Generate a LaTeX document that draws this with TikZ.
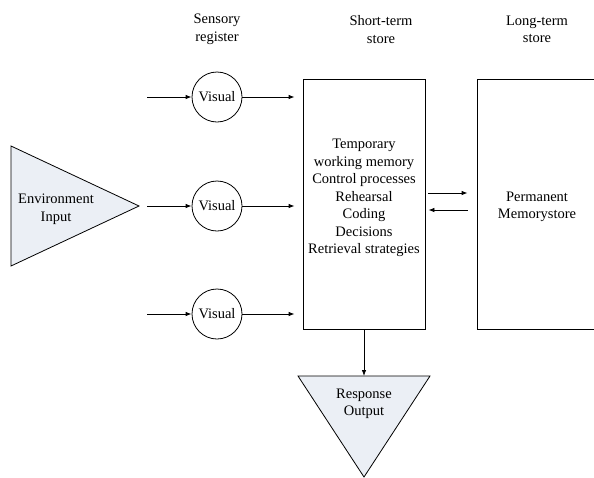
\documentclass[tikz,border=0pt]{standalone}
\usepackage{fontspec}
\setmainfont{Liberation Serif}
\usetikzlibrary{arrows.meta}
\definecolor{shade}{RGB}{235,239,245}
\begin{document}
\begin{tikzpicture}[x=1pt,y=-1pt,
  every node/.style={font=\fontsize{14.5}{17.5}\selectfont, align=center},
  line/.style={line width=0.8pt},
  arr/.style={line width=0.8pt, -{Latex[length=6pt,width=4.5pt]}},
  sense/.style={draw, circle, line width=0.8pt, minimum size=50pt, inner sep=0pt},
  store/.style={draw, rectangle, line width=0.8pt, inner sep=0pt}]
\useasboundingbox (0,0) rectangle (594,477);
\clip (0,0) rectangle (594,477);
% titles
\node (t1) at (217,29.5) {Sensory\\register};
\node (t2) at (381,29.5) {Short-term\\store};
\node (t3) at (537,29.5) {Long-term\\store};
% environment triangle
\draw[line, fill=shade] (11,146) coordinate (e1) -- (139,206) coordinate (eapex) -- (11,266) -- cycle;
\node (env) at (56,209) {Environment\\Input};
% sensory circles
\node[sense] (v1) at (217,97) {Visual};
\node[sense] (v2) at (217,206) {Visual};
\node[sense] (v3) at (217,314) {Visual};
\coordinate (s1) at (147,97);
\coordinate (s2) at (147,206);
\coordinate (s3) at (147,314);
% stores
\node[store, minimum width=122pt, minimum height=250pt] (sts) at (364,204) {};
\node (stt) at (364,198) {Temporary\\working memory\\Control processes\\Rehearsal\\Coding\\Decisions\\Retrieval strategies};
\node[store, minimum width=120pt, minimum height=250pt] (lts) at (537,204) {};
\node (ltt) at (537,207) {Permanent\\Memorystore};
% response triangle
\draw[line, fill=shade] (298,376) coordinate (rtop) -- (430,376) -- (364,477) coordinate (rapex) -- cycle;
\coordinate (rin) at (364,376);
\node (resp) at (364,404) {Response\\Output};
% connectors
\foreach \i in {1,2,3}{
  \draw[arr] (s\i) -- (v\i.west);
  \draw[arr, shorten >=8pt] (v\i.east) -- (v\i.east -| sts.west);
}
\draw[arr, shorten <=3pt, shorten >=9pt] ([yshift=11pt]sts.east) -- ([yshift=11pt]lts.west);
\draw[arr, shorten <=9pt, shorten >=3pt] ([yshift=-6pt]lts.west) -- ([yshift=-6pt]sts.east);
\draw[arr] (sts.south) -- (rin);
\end{tikzpicture}
\end{document}
